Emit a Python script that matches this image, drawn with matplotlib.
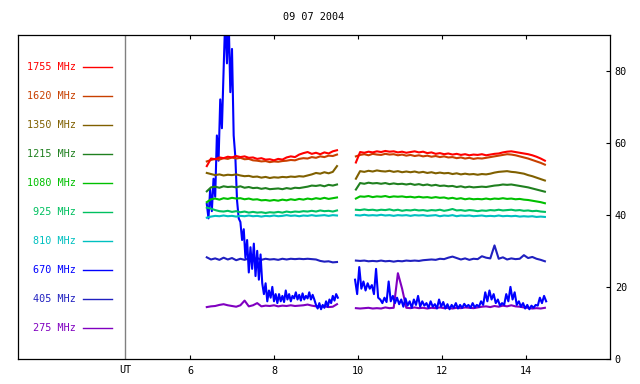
import matplotlib

matplotlib.use("Agg")
import matplotlib.pyplot as plt
import numpy as np

DATE = "09 07 2004"
FREQUENCIES = ["1755", "1620", "1350", "1215", "1080", "925", "810", "670", "405", "275"]
COLORS = ["#ff0000", "#c84000", "#806000", "#208020", "#00c000",
          "#00c060", "#00c0c0", "#0000ff", "#2020c0", "#8000c0"]

# UT hours of the two recording intervals (670 MHz is sampled finer)
hours_a = np.linspace(6.40, 9.50, 32)
hours_b = np.linspace(9.95, 14.45, 46)
hours_670_a = np.linspace(6.40, 9.52, 79)
hours_670_b = np.linspace(9.93, 14.48, 92)

flux_1755_a = [53.5, 55.6, 55.4, 55.9, 55.7, 56.1, 55.9, 56.3,
               56.0, 56.2, 55.8, 55.9, 55.5, 55.7, 55.3, 55.4,
               55.1, 55.5, 55.3, 55.9, 56.2, 56.0, 56.7, 57.1,
               57.4, 56.9, 57.2, 56.8, 57.3, 57.0, 57.6, 57.9]
flux_1755_b = [54.5, 57.4, 57.2, 57.5, 57.3, 57.6, 57.4, 57.7, 57.5, 57.6,
               57.3, 57.5, 57.2, 57.4, 57.6, 57.3, 57.5, 57.1, 57.3, 56.9,
               57.1, 56.8, 57.0, 56.7, 56.9, 56.6, 56.8, 56.5, 56.7, 56.6,
               56.8, 56.5, 56.7, 56.9, 57.0, 57.3, 57.5, 57.6, 57.4, 57.2,
               57.0, 56.8, 56.5, 56.1, 55.6, 55.0]

flux_1620_a = [54.8, 55.2, 55.5, 55.3, 55.7, 55.5, 55.9, 55.6,
               55.8, 55.4, 55.5, 55.1, 55.0, 54.8, 54.9, 54.6,
               54.8, 54.7, 54.9, 55.0, 55.2, 55.1, 55.5, 55.7,
               55.6, 56.0, 55.8, 56.2, 56.0, 56.4, 56.3, 56.7]
flux_1620_b = [56.2, 56.6, 56.8, 56.5, 56.9, 56.7, 56.6, 56.9, 56.7, 56.8,
               56.5, 56.7, 56.4, 56.6, 56.3, 56.5, 56.2, 56.4, 56.1, 56.3,
               56.0, 56.2, 55.9, 56.0, 55.7, 55.9, 55.6, 55.8, 55.5, 55.7,
               55.6, 55.8, 56.0, 56.2, 56.4, 56.6, 56.8, 56.7, 56.5, 56.2,
               55.9, 55.6, 55.2, 54.8, 54.4, 53.9]

flux_1350_a = [51.6, 51.3, 51.0, 51.2, 50.9, 51.1, 51.0, 51.2,
               50.9, 50.7, 50.8, 50.5, 50.6, 50.3, 50.5, 50.2,
               50.4, 50.3, 50.5, 50.4, 50.6, 50.5, 50.7, 50.6,
               50.9, 51.2, 51.6, 51.4, 51.8, 51.5, 51.9, 53.5]
flux_1350_b = [50.0, 52.1, 51.9, 52.2, 52.0, 52.3, 52.1, 52.0, 52.2, 51.9,
               52.1, 51.8, 52.0, 51.8, 52.0, 51.7, 51.9, 51.6, 51.8, 51.5,
               51.7, 51.5, 51.6, 51.3, 51.5, 51.2, 51.4, 51.2, 51.3, 51.1,
               51.3, 51.2, 51.4, 51.7, 51.9, 52.0, 52.1, 51.9, 51.8, 51.6,
               51.4, 51.0, 50.7, 50.3, 49.9, 49.5]

flux_1215_a = [46.5, 47.6, 47.8, 47.5, 47.9, 47.7, 47.8, 47.6,
               47.9, 47.5, 47.7, 47.4, 47.5, 47.2, 47.4, 47.1,
               47.2, 47.3, 47.1, 47.4, 47.2, 47.5, 47.4, 47.6,
               47.8, 48.1, 48.0, 48.2, 47.9, 48.3, 48.1, 48.4]
flux_1215_b = [47.0, 48.8, 48.6, 48.9, 48.7, 48.8, 48.6, 48.8, 48.5, 48.7,
               48.5, 48.6, 48.4, 48.6, 48.3, 48.5, 48.2, 48.4, 48.1, 48.3,
               48.0, 48.1, 47.9, 48.0, 47.7, 47.9, 47.6, 47.8, 47.6, 47.7,
               47.8, 47.7, 47.9, 48.1, 48.2, 48.4, 48.3, 48.4, 48.2, 48.0,
               47.8, 47.6, 47.3, 47.0, 46.7, 46.4]

flux_1080_a = [43.5, 44.3, 44.5, 44.2, 44.6, 44.4, 44.7, 44.5,
               44.6, 44.3, 44.5, 44.2, 44.3, 44.0, 44.1, 43.9,
               44.1, 43.9, 44.2, 44.0, 44.3, 44.1, 44.4, 44.2,
               44.5, 44.3, 44.6, 44.4, 44.7, 44.4, 44.6, 44.8]
flux_1080_b = [44.5, 45.1, 45.0, 45.2, 44.9, 45.1, 45.0, 45.2, 44.9, 45.1,
               45.0, 45.1, 44.9, 45.0, 44.8, 45.0, 44.8, 44.9, 44.7, 44.9,
               44.7, 44.8, 44.5, 44.7, 44.4, 44.6, 44.3, 44.5, 44.3, 44.4,
               44.3, 44.5, 44.3, 44.5, 44.4, 44.6, 44.4, 44.5, 44.3, 44.4,
               44.2, 44.1, 43.9, 43.7, 43.5, 43.2]

flux_925_a = [42.0, 41.7, 41.3, 41.0, 40.9, 41.1, 40.8, 41.0,
              40.7, 40.9, 40.6, 40.8, 40.6, 40.7, 40.5, 40.7,
              40.6, 40.8, 40.6, 40.9, 40.7, 40.9, 40.8, 41.0,
              40.9, 41.1, 40.9, 41.2, 41.0, 41.1, 40.9, 41.2]
flux_925_b = [41.4, 41.3, 41.5, 41.3, 41.4, 41.2, 41.4, 41.3, 41.5, 41.2,
              41.4, 41.1, 41.3, 41.2, 41.4, 41.2, 41.3, 41.1, 41.3, 41.2,
              41.4, 41.1, 41.3, 41.6, 41.2, 41.3, 41.1, 41.3, 41.2, 41.0,
              41.2, 41.1, 41.3, 41.2, 41.4, 41.2, 41.3, 41.4, 41.2, 41.3,
              41.1, 41.2, 41.0, 41.1, 40.9, 40.8]

flux_810_a = [39.2, 39.5, 39.7, 39.6, 39.8, 39.6, 39.7, 39.5,
              39.7, 39.6, 39.8, 39.6, 39.7, 39.5, 39.7, 39.6,
              39.8, 39.6, 39.7, 39.9, 39.7, 39.8, 39.6, 39.8,
              39.7, 39.9, 39.7, 39.8, 39.9, 39.7, 39.9, 39.8]
flux_810_b = [39.9, 39.8, 40.0, 39.8, 39.9, 39.8, 40.0, 39.8, 39.9, 39.7,
              39.9, 39.8, 39.9, 39.7, 39.9, 39.8, 39.9, 39.7, 39.8, 39.9,
              39.6, 39.8, 39.7, 39.9, 39.6, 39.8, 39.7, 39.8, 39.6, 39.7,
              39.8, 39.6, 39.7, 39.6, 39.8, 39.6, 39.7, 39.6, 39.7, 39.5,
              39.6, 39.5, 39.6, 39.4, 39.5, 39.4]

flux_670_a = [43, 39, 47, 41, 50, 45, 62, 55, 72, 64,
              80, 95, 82, 95, 74, 86, 62, 56, 44, 39,
              38, 33, 36, 28, 33, 24, 31, 25, 32, 23,
              30, 22, 29, 21, 18, 21, 16, 19, 17, 20,
              16, 18, 15.5, 18, 16, 17.5, 15.8, 19, 16.5, 18,
              16, 17.5, 16.8, 18.5, 16.5, 17.8, 16.2, 18.2, 16.5, 17.5,
              16.8, 18.5, 16.5, 17.8, 16.5, 15, 14, 15.5, 13.8, 15,
              14.2, 16, 14.5, 16.5, 15.5, 17.5, 16.2, 18, 17]
flux_670_b = [22, 18, 25.5, 19.5, 21.5, 19, 21, 19.5, 20.5, 18,
              25, 17, 16.5, 15.5, 17, 15.8, 21.5, 16, 17.5, 15.5,
              17, 15.2, 16.5, 14.5, 16.8, 14.8, 16, 14.2, 16.5, 15,
              17.5, 14.5, 16, 14.8, 15.5, 14.2, 16, 14.5, 15.2, 14,
              16.5, 14.5, 15.8, 14, 15.2, 13.8, 15, 14.2, 15.5, 14,
              15, 14.2, 15.3, 14.5, 15, 14.2, 15.5, 14.3, 15, 14.5,
              16, 15, 18.5, 16, 19, 16.5, 18, 15.5, 16.5, 14.8,
              15.5, 15, 18, 16, 20, 16.5, 18.5, 15, 16, 14.5,
              15.5, 14, 15, 13.8, 14.8, 14.2, 15, 14.8, 17, 15.5,
              17.5, 16]

flux_405_a = [28.2, 27.6, 27.9, 27.5, 28.1, 27.6, 28.0, 27.4,
              27.8, 27.5, 27.9, 27.6, 28.0, 27.5, 27.8, 27.6,
              27.7, 27.5, 27.8, 27.6, 27.8, 27.7, 27.8, 27.7,
              27.8, 27.7, 27.6, 27.2, 27.0, 27.1, 26.8, 26.9]
flux_405_b = [27.3, 27.2, 27.3, 27.1, 27.2, 27.1, 27.3, 27.1, 27.2, 27.0,
              27.2, 27.1, 27.3, 27.2, 27.3, 27.2, 27.4, 27.5, 27.6, 27.5,
              27.8, 27.7, 28.1, 28.4, 28.0, 27.6, 27.9, 27.5, 27.8, 27.7,
              28.5, 28.1, 27.9, 31.5, 27.8, 28.2, 27.6, 27.9, 27.7, 27.8,
              28.8, 28.0, 28.3, 27.8, 27.5, 27.1]

flux_275_a = [14.4, 14.6, 14.7, 15.0, 15.2, 14.9, 14.7, 14.5,
              14.9, 16.2, 14.6, 14.9, 15.5, 14.6, 14.8, 14.7,
              14.9, 14.6, 14.8, 14.7, 14.9, 14.7, 14.8, 14.9,
              15.1, 14.8, 14.6, 14.5, 14.6, 14.4, 14.5, 15.2]
flux_275_b = [14.1, 14.0, 14.1, 14.2, 14.0, 14.1, 14.0, 14.3, 14.1, 14.2,
              23.8, 19.5, 14.2, 14.1, 14.3, 14.1, 14.2, 14.0, 14.2, 14.1,
              14.3, 14.1, 14.2, 14.0, 14.2, 14.1, 14.3, 14.2, 14.1, 14.3,
              14.5, 14.6, 14.4, 14.7, 14.5, 14.8, 14.6, 14.9, 14.6, 14.5,
              14.3, 14.2, 14.0, 14.1, 14.0, 14.2]

series = {
    "1755": (flux_1755_a, flux_1755_b),
    "1620": (flux_1620_a, flux_1620_b),
    "1350": (flux_1350_a, flux_1350_b),
    "1215": (flux_1215_a, flux_1215_b),
    "1080": (flux_1080_a, flux_1080_b),
    "925": (flux_925_a, flux_925_b),
    "810": (flux_810_a, flux_810_b),
    "670": (flux_670_a, flux_670_b),
    "405": (flux_405_a, flux_405_b),
    "275": (flux_275_a, flux_275_b),
}

plt.rcParams["font.family"] = "DejaVu Sans Mono"
plt.rcParams["font.size"] = 7.3

fig = plt.figure(figsize=(6.4, 3.84), dpi=100)
ax = fig.add_axes([18 / 640, 25 / 384, 592 / 640, 324.5 / 384])

# low frequencies first so the upper bands sit on top
for freq, color in reversed(list(zip(FREQUENCIES, COLORS))):
    first, second = series[freq]
    if freq == "670":
        ax.plot(hours_670_a, first, color=color, lw=1.5)
        ax.plot(hours_670_b, second, color=color, lw=1.5)
    else:
        ax.plot(hours_a, first, color=color, lw=1.5)
        ax.plot(hours_b, second, color=color, lw=1.5)

ax.set_xlim(1.905, 16.0)
ax.set_ylim(0, 90)
ax.set_xticks([6, 8, 10, 12, 14])
ax.set_yticks([0, 20, 40, 60, 80])
ax.yaxis.tick_right()
ax.tick_params(axis="x", top=True, bottom=True, direction="in", length=3, width=0.8, pad=5)
ax.tick_params(axis="y", right=True, left=False, direction="in", length=3, width=0.8, pad=3.5)
for spine in ax.spines.values():
    spine.set_linewidth(0.9)

# separator between legend panel and time axis
ut_start = 4.452
ax.axvline(ut_start, color="#808080", lw=1)
ax.text(ut_start, -0.035, "UT", transform=ax.get_xaxis_transform(),
        ha="center", va="center")

# legend panel on the left
for k, (freq, color) in enumerate(zip(FREQUENCIES, COLORS)):
    y = (359 - (67.3 + 29 * k)) / 324.5
    ax.text(0.098, y, f"{freq} MHz", color=color, ha="right", va="center",
            transform=ax.transAxes)
    ax.plot([0.1098, 0.1588], [y, y], color=color, lw=1, transform=ax.transAxes)

fig.text(0.49, 1 - 17 / 384, DATE, ha="center", va="center")

fig.savefig("out.png", dpi=100)
